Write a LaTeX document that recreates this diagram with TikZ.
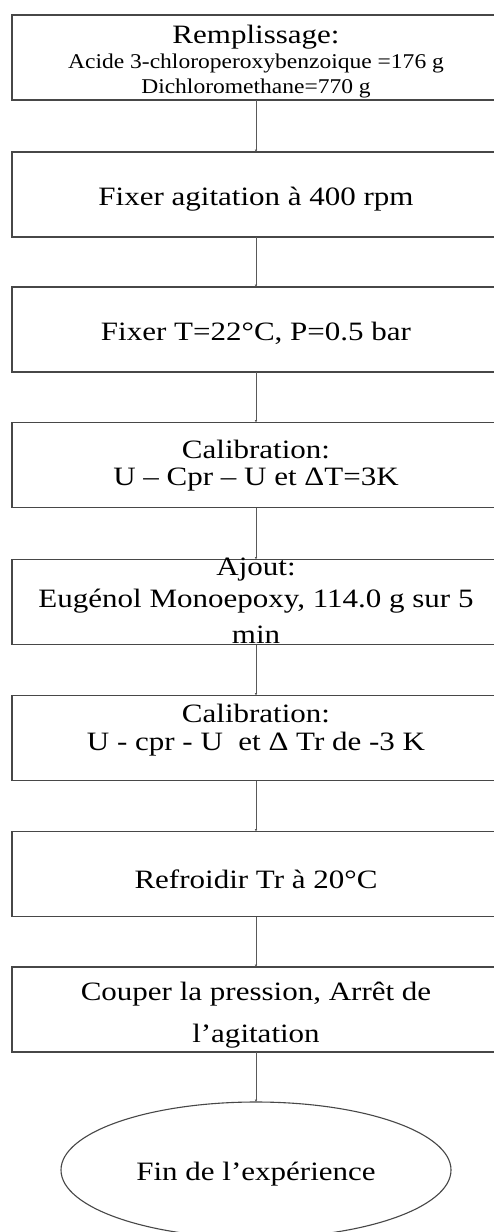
\documentclass[tikz,border=0pt]{standalone}
\usepackage{fontspec}
\setmainfont{Liberation Serif}
\newfontfamily\mainf{Liberation Serif}[FakeStretch=1.17]
\newfontfamily\smallf{Liberation Serif}[FakeStretch=1.12]
\usetikzlibrary{shapes.geometric,arrows.meta}
\begin{document}
\begin{tikzpicture}[x=1pt,y=-1pt,
  box/.style={draw=black!72,line width=1.3pt,minimum width=488pt,minimum height=85pt,inner sep=0pt,outer sep=0pt},
  endnode/.style={draw=black!72,line width=1.1pt,ellipse,minimum width=390pt,minimum height=136pt,inner sep=0pt,outer sep=0pt},
  txt/.style={anchor=base,inner sep=0pt,font=\mainf\fontsize{26.5}{30}\selectfont},
  stxt/.style={anchor=base,inner sep=0pt,font=\smallf\fontsize{21}{24}\selectfont},
  conn/.style={draw=black!65,line width=0.9pt,-{Latex[length=2.5pt,width=2.5pt]}}]
\useasboundingbox[fill=white] (0,0) rectangle (494,1232);
% boxes
\node[box] (b1) at (256,57.5) {};
\node[box] (b2) at (256,194.5) {};
\node[box] (b3) at (256,329.5) {};
\node[box] (b4) at (256,465) {};
\node[box] (b5) at (256,602) {};
\node[box] (b6) at (256,738) {};
\node[box] (b7) at (256,874) {};
\node[box] (b8) at (256,1009.5) {};
\node[endnode] (e) at (256,1170) {};
% texts
\node[txt] (t1a) at (256,43) {Remplissage:};
\node[stxt] (t1b) at (256,68) {Acide 3-chloroperoxybenzoique =176 g};
\node[stxt] (t1c) at (256,93) {Dichloromethane=770 g};
\node[txt] (t2) at (256,205) {Fixer agitation à 400 rpm};
\node[txt] (t3) at (256,340) {Fixer T=22°C, P=0.5 bar};
\node[txt] (t4a) at (256,458) {Calibration:};
\node[txt] (t4b) at (256,485) {U – Cpr – U et ΔT=3K};
\node[txt] (t5a) at (256,575) {Ajout:};
\node[txt] (t5b) at (256,607) {Eugénol Monoepoxy, 114.0 g sur 5};
\node[txt] (t5c) at (256,643) {min};
\node[txt] (t6a) at (256,722) {Calibration:};
\node[txt] (t6b) at (256,750) {U - cpr - U\ \ et Δ Tr de -3 K};
\node[txt] (t7) at (256,888) {Refroidir Tr à 20°C};
\node[txt] (t8a) at (256,1000) {Couper la pression, Arrêt de};
\node[txt] (t8b) at (256,1042) {l’agitation};
\node[txt] (te) at (256,1180) {Fin de l’expérience};
% connectors
\draw[conn] (b1.south) -- (b2.north);
\draw[conn] (b2.south) -- (b3.north);
\draw[conn] (b3.south) -- (b4.north);
\draw[conn] (b4.south) -- (b5.north);
\draw[conn] (b5.south) -- (b6.north);
\draw[conn] (b6.south) -- (b7.north);
\draw[conn] (b7.south) -- (b8.north);
\draw[conn] (b8.south) -- (e.north);
\end{tikzpicture}
\end{document}
